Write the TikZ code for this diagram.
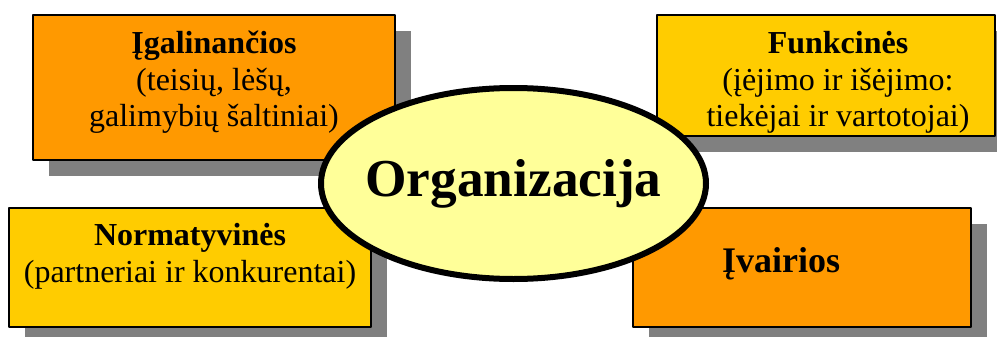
\documentclass[tikz,border=0pt]{standalone}
\usepackage{fontspec}
\setmainfont{Liberation Serif}
\usetikzlibrary{shapes.geometric,shadows}
\definecolor{orangebox}{RGB}{255,153,0}
\definecolor{yellowbox}{RGB}{255,204,0}
\definecolor{ovalfill}{RGB}{255,255,153}
\begin{document}
\begin{tikzpicture}[x=0.75pt,y=-0.75pt, font=\fontsize{24pt}{27.7pt}\selectfont, line join=round,
	box/.style={rectangle,draw=black,line width=1.1pt,align=center,inner sep=0pt,
		drop shadow={shadow xshift=12pt,shadow yshift=-12pt,fill=black!50,opacity=1}},
	oval/.style={ellipse,draw=black,line width=4.5pt,fill=ovalfill,inner xsep=-22pt,inner ysep=0pt}]
	\useasboundingbox (0,0) rectangle (997,336);
	\node[box,fill=orangebox,minimum width=271.5pt,minimum height=108.75pt,text height=67.2pt,text depth=8pt] (igal) at (214,87.5) {\textbf{Įgalinančios}\\(teisių, lėšų,\\galimybių šaltiniai)};
	\node[box,fill=yellowbox,minimum width=253.5pt,minimum height=90.75pt,text height=79.2pt,text depth=2pt] (funk) at (826,75.5) {\hspace*{18pt}\textbf{Funkcinės}\\\hspace*{18pt}(įėjimo ir išėjimo:\\\hspace*{18pt}tiekėjai ir vartotojai)};
	\node[box,fill=yellowbox,minimum width=271.5pt,minimum height=89.25pt,text height=29.8pt,text depth=8pt] (norm) at (190,267.5) {\textbf{Normatyvinės}\\(partneriai ir konkurentai)};
	\node[box,fill=orangebox,minimum width=253.5pt,minimum height=89.25pt,text height=16.2pt,text depth=8pt,font=\fontsize{27pt}{31pt}\selectfont\bfseries] (ivai) at (802,267.5) {Įvairios\hspace{31.5pt}};
	\node[oval,minimum width=288.75pt,minimum height=143.25pt,font=\fontsize{40pt}{46pt}\selectfont\bfseries] (org) at (513.5,183.5) {Organizacija\hspace{24pt}};
\end{tikzpicture}
\end{document}
